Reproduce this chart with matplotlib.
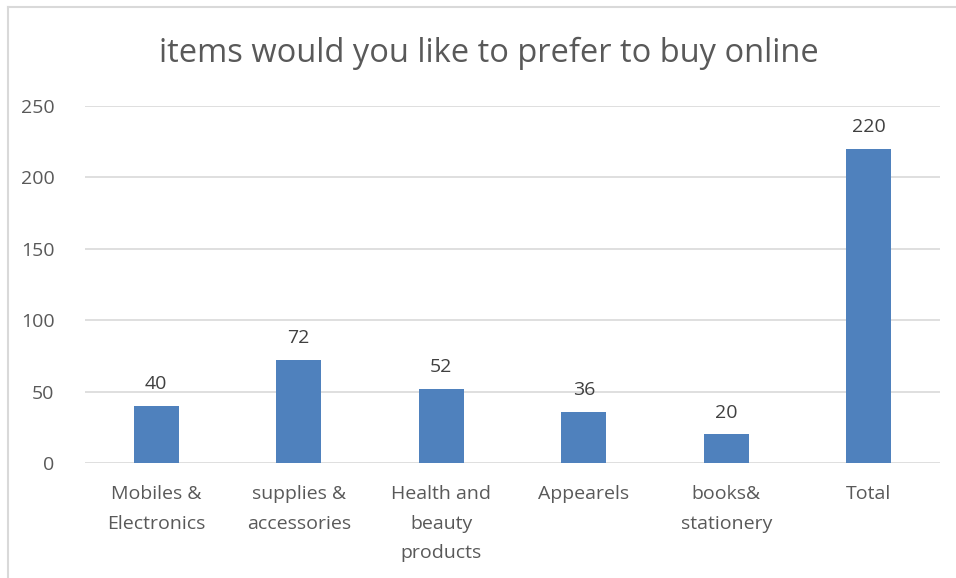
import matplotlib.pyplot as plt
from matplotlib.lines import Line2D

categories = ['Mobiles &\nElectronics', 'supplies &\naccessories', 'Health and\nbeauty\nproducts',
              'Appearels', 'books&\nstationery', 'Total']
values = [40, 72, 52, 36, 20, 220]
yticks = [0, 50, 100, 150, 200, 250]

plt.rcParams['font.family'] = ['Open Sans', 'DejaVu Sans']
text_col = '#595959'

fig = plt.figure(figsize=(9.56, 5.78), dpi=100)
ax = fig.add_axes([0.0889, 0.199, 0.8944, 0.6176])

x = list(range(len(categories)))
bars = ax.bar(x, values, width=0.315, color='#4F81BD', zorder=3)
for b, v in zip(bars, values):
    ax.text(b.get_x() + b.get_width() / 2, v + 9, str(v), ha='center', va='bottom',
            fontsize=14, color='#404040')

ax.set_xlim(-0.5, len(categories) - 0.5)
ax.set_ylim(0, 250)
ax.set_yticks(yticks)
ax.set_xticks(x)
ax.set_xticklabels(categories, fontsize=14, color=text_col, linespacing=1.82)
ax.tick_params(axis='y', labelsize=14, labelcolor=text_col, length=0, pad=22)
ax.tick_params(axis='x', length=0, pad=16)
ax.grid(axis='y', color='#D9D9D9', linewidth=1.2, zorder=0)
for s in ax.spines.values():
    s.set_visible(False)

fig.text(0.511, 0.908, 'items would you like to prefer to buy online', ha='center', va='center',
         fontsize=23.5, color=text_col)

# outer chart frame, only top and left edges are visible
fig.add_artist(Line2D([0.0084, 1.0], [0.988, 0.988], color='#D9D9D9', lw=1.5, transform=fig.transFigure))
fig.add_artist(Line2D([0.0084, 0.0084], [0.0, 0.988], color='#D9D9D9', lw=1.5, transform=fig.transFigure))

fig.savefig('out.png', dpi=100)
